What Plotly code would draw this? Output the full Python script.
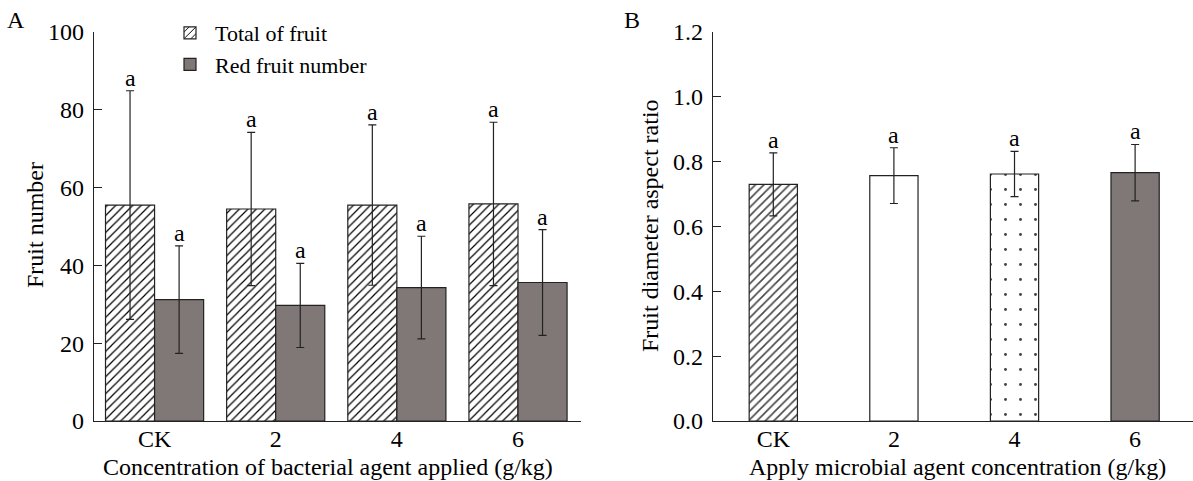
import plotly.graph_objects as go

W, H = 1193, 481

categories = ["CK", "2", "4", "6"]

# Panel A
total_fruit = [55.5, 54.5, 55.5, 55.8]
total_err = [29.4, 19.7, 20.6, 21.0]
red_fruit = [31.2, 29.7, 34.3, 35.6]
red_err = [13.8, 10.8, 13.2, 13.6]
letters_total = ["a", "a", "a", "a"]
letters_red = ["a", "a", "a", "a"]

# Panel B
aspect_ratio = [0.730, 0.757, 0.762, 0.766]
aspect_err = [0.097, 0.086, 0.070, 0.087]
letters_b = ["a", "a", "a", "a"]

FONT = "Liberation Serif"
GRAY = "#807877"
FS = 24

fig = go.Figure()

fig.add_trace(go.Bar(
    x=categories, y=total_fruit, name="Total of fruit",
    marker=dict(color="white", line=dict(color="#222", width=1.2),
                pattern=dict(shape="/", fgcolor="black", bgcolor="white", fgopacity=1,
                             size=6, solidity=0.2)),
    error_y=dict(type="data", array=total_err, color="#222", thickness=1.2, width=4),
    xaxis="x", yaxis="y",
))
fig.add_trace(go.Bar(
    x=categories, y=red_fruit, name="Red fruit number",
    marker=dict(color=GRAY, line=dict(color="#222", width=1.2)),
    error_y=dict(type="data", array=red_err, color="#222", thickness=1.2, width=4),
    xaxis="x", yaxis="y",
))

fig.add_trace(go.Bar(
    x=categories, y=aspect_ratio, showlegend=False, width=0.4,
    marker=dict(color=["white", "white", "white", GRAY], line=dict(color="#222", width=1.2),
                pattern=dict(shape=["/", "", ".", ""], fgcolor="black", bgcolor="white",
                             fgopacity=1, size=[6, 8, 15, 8], solidity=[0.26, 0.2, 0.03, 0.2])),
    error_y=dict(type="data", array=aspect_err, color="#222", thickness=1.2, width=4),
    xaxis="x2", yaxis="y2",
))

def txt(**kw):
    d = dict(showarrow=False, xanchor="center", yanchor="middle",
             font=dict(family=FONT, size=FS, color="black"))
    d.update(kw)
    return d

annotations = []
for i, c in enumerate(categories):
    annotations.append(txt(x=i, y=total_fruit[i] + total_err[i], xref="x", yref="y",
                           text=letters_total[i], yanchor="bottom", xshift=-24.5, yshift=-2))
    annotations.append(txt(x=i, y=red_fruit[i] + red_err[i], xref="x", yref="y",
                           text=letters_red[i], yanchor="bottom", xshift=24.5, yshift=-2))
    annotations.append(txt(x=i, y=aspect_ratio[i] + aspect_err[i], xref="x2", yref="y2",
                           text=letters_b[i], yanchor="bottom", yshift=-2))

def px_x(p):
    return p / W

def px_y(p):
    return 1 - p / H

annotations += [
    txt(x=px_x(16), y=px_y(20), xref="paper", yref="paper", text="A"),
    txt(x=px_x(632), y=px_y(20), xref="paper", yref="paper", text="B"),
    txt(x=px_x(35), y=px_y(225), xref="paper", yref="paper", text="Fruit number", textangle=-90),
    txt(x=px_x(650), y=px_y(225), xref="paper", yref="paper", text="Fruit diameter aspect ratio",
        textangle=-90),
    txt(x=px_x(328), y=px_y(467), xref="paper", yref="paper",
        text="Concentration of bacterial agent applied (g/kg)"),
    txt(x=px_x(957), y=px_y(467), xref="paper", yref="paper",
        text="Apply microbial agent concentration (g/kg)"),
]

axis_common = dict(showline=True, linecolor="#222", linewidth=1.2, showgrid=False, zeroline=False,
                   automargin=False, tickfont=dict(family=FONT, size=FS, color="black"))

fig.update_layout(
    width=W, height=H, autosize=False,
    margin=dict(l=0, r=0, t=0, b=0, pad=0, autoexpand=False),
    paper_bgcolor="white", plot_bgcolor="white",
    barmode="group", bargap=0.19, bargroupgap=0,
    font=dict(family=FONT, size=FS, color="black"),
    xaxis=dict(domain=[px_x(94), px_x(581)], range=[-0.5, 3.52], ticks="", anchor="y",
               type="category", ticklabelstandoff=-4, **axis_common),
    yaxis=dict(domain=[px_y(421), px_y(32)], range=[0, 100], tickvals=[0, 20, 40, 60, 80, 100],
               ticks="inside", ticklen=8, tickwidth=1.2, tickcolor="#222", anchor="x",
               ticklabelstandoff=4, **axis_common),
    xaxis2=dict(domain=[px_x(713), 1.0], range=[-0.5, 3.48], ticks="", anchor="y2",
                type="category", ticklabelstandoff=-4, **axis_common),
    yaxis2=dict(domain=[px_y(421), px_y(32)], range=[0, 1.2],
                tickvals=[0, 0.2, 0.4, 0.6, 0.8, 1.0, 1.2], tickformat=".1f",
                ticks="inside", ticklen=8, tickwidth=1.2, tickcolor="#222", anchor="x2",
                ticklabelstandoff=4, **axis_common),
    legend=dict(x=px_x(165), y=px_y(12), xanchor="left", yanchor="top",
                font=dict(family=FONT, size=22, color="black"), bgcolor="rgba(0,0,0,0)",
                itemwidth=40, tracegroupgap=0),
    annotations=annotations,
)

fig.write_html("out.html")
